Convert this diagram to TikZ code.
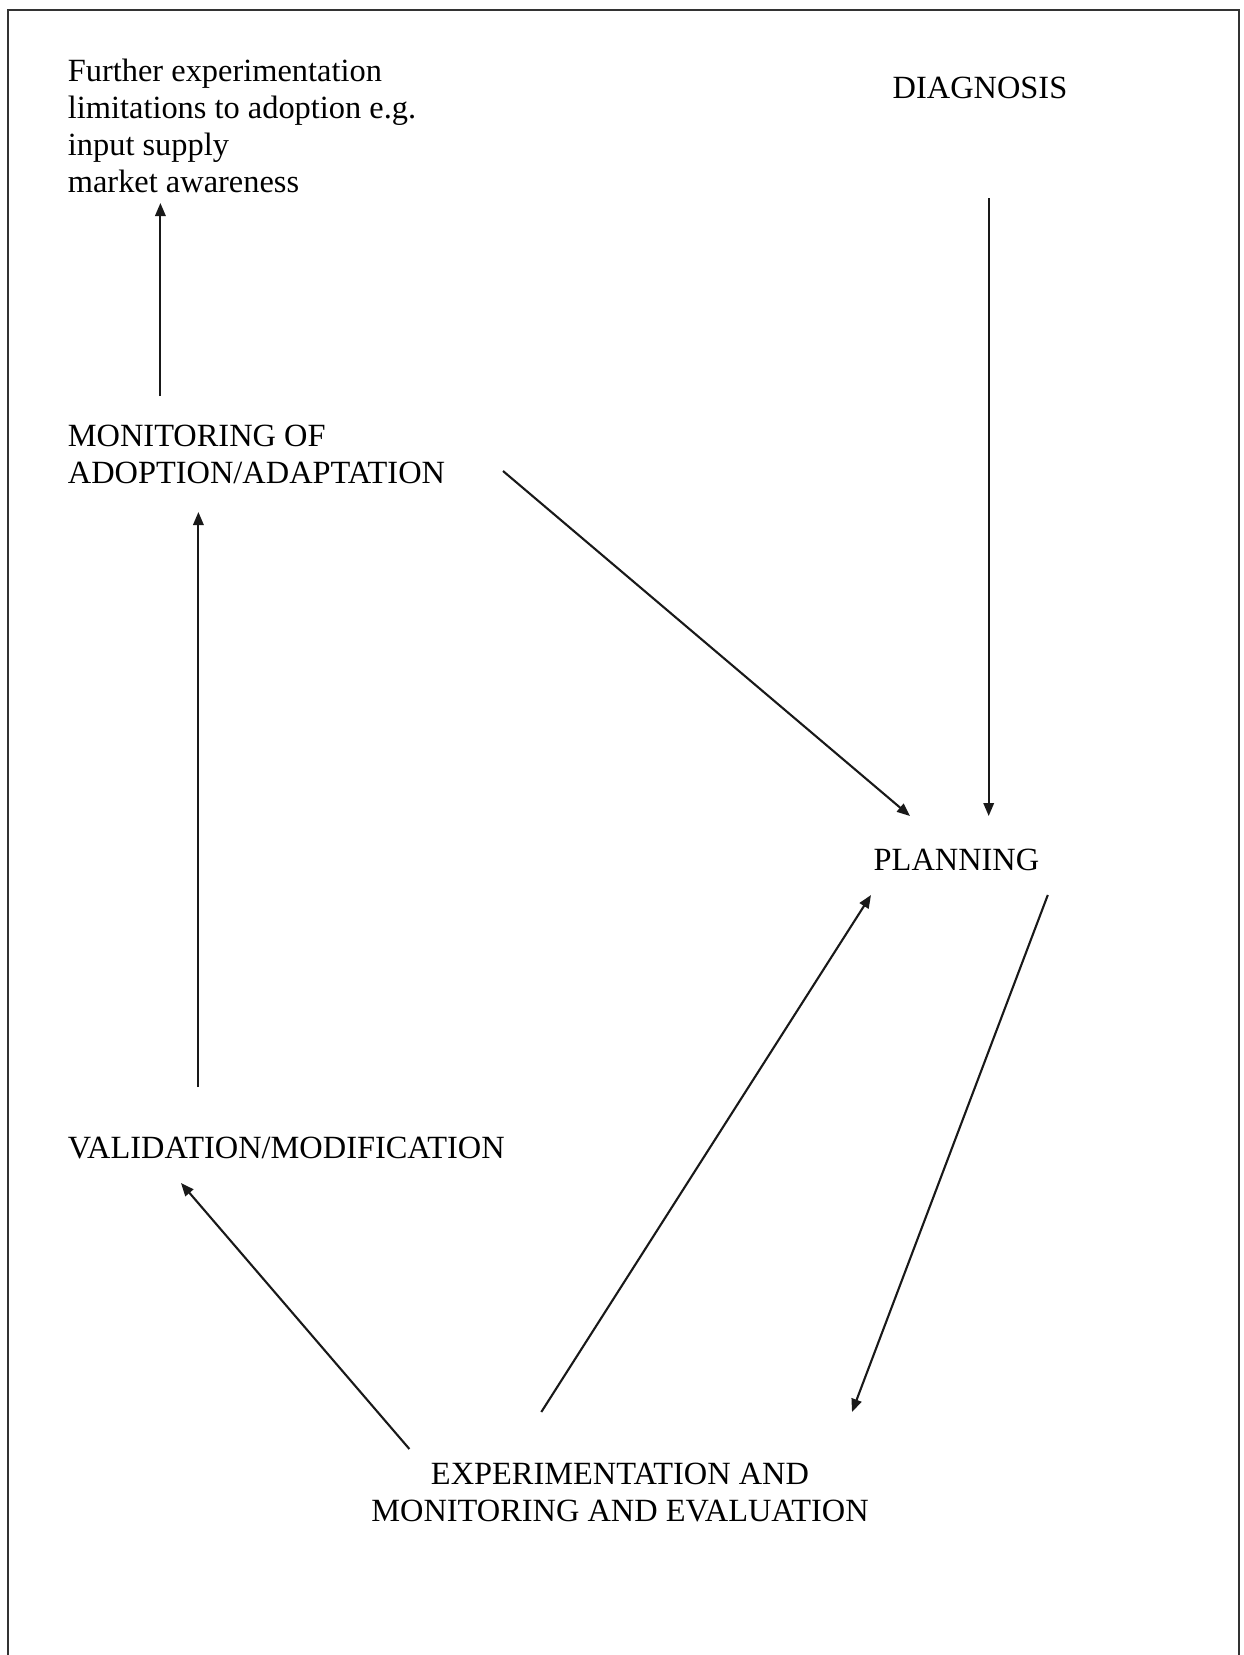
\documentclass[tikz,border=0pt]{standalone}
\usepackage{fontspec}
\setmainfont{Liberation Serif}
\usetikzlibrary{arrows.meta}
\begin{document}
\begin{tikzpicture}[x=0.5pt,y=-0.5pt,
  lbl/.style={inner sep=0pt,font=\fontsize{16.2pt}{18.5pt}\selectfont},
  lblleft/.style={lbl,anchor=west,align=left},
  arr/.style={line width=1.05pt,draw=black!90,-{Triangle[length=6.5pt,width=5.2pt]}},
  frame/.style={line width=1.1pt,draw=black!80}]
\useasboundingbox (0,0) rectangle (1243,1655);
% outer frame (bottom edge falls outside the page)
\draw[frame] (8,1670) -- (8,10) -- (1239,10) -- (1239,1670);

% stage labels
\node[lblleft] (further) at (67.5,126) {Further experimentation\\limitations to adoption e.g.\\input supply\\market awareness};
\node[lbl] (diag) at (980,88) {DIAGNOSIS};
\node[lblleft] (monitor) at (67.5,454.5) {MONITORING OF\\ADOPTION/ADAPTATION};
\node[lbl] (plan) at (956.5,860) {PLANNING};
\node[lblleft] (valid) at (67.5,1148) {VALIDATION/MODIFICATION};
\node[lbl,align=center] (exper) at (620,1492.5) {EXPERIMENTATION AND\\MONITORING AND EVALUATION};

% connector end points
\coordinate (monUp0) at (160.4,396);
\coordinate (monUp1) at (160.4,203);
\coordinate (valUp0) at (198.4,1087);
\coordinate (valUp1) at (198.4,512);
\coordinate (monPl0) at (503,471);
\coordinate (monPl1) at (910,816);
\coordinate (diaPl0) at (988.7,198);
\coordinate (diaPl1) at (988.7,816);
\coordinate (expPl0) at (541.3,1412);
\coordinate (expPl1) at (871,895);
\coordinate (plExp0) at (1047.8,895);
\coordinate (plExp1) at (852,1412);
\coordinate (expVa0) at (409.4,1449);
\coordinate (expVa1) at (181,1183);

% connectors
\draw[arr] (monUp0) -- (monUp1);
\draw[arr] (valUp0) -- (valUp1);
\draw[arr] (monPl0) -- (monPl1);
\draw[arr] (diaPl0) -- (diaPl1);
\draw[arr] (expPl0) -- (expPl1);
\draw[arr] (plExp0) -- (plExp1);
\draw[arr] (expVa0) -- (expVa1);
\end{tikzpicture}
\end{document}
